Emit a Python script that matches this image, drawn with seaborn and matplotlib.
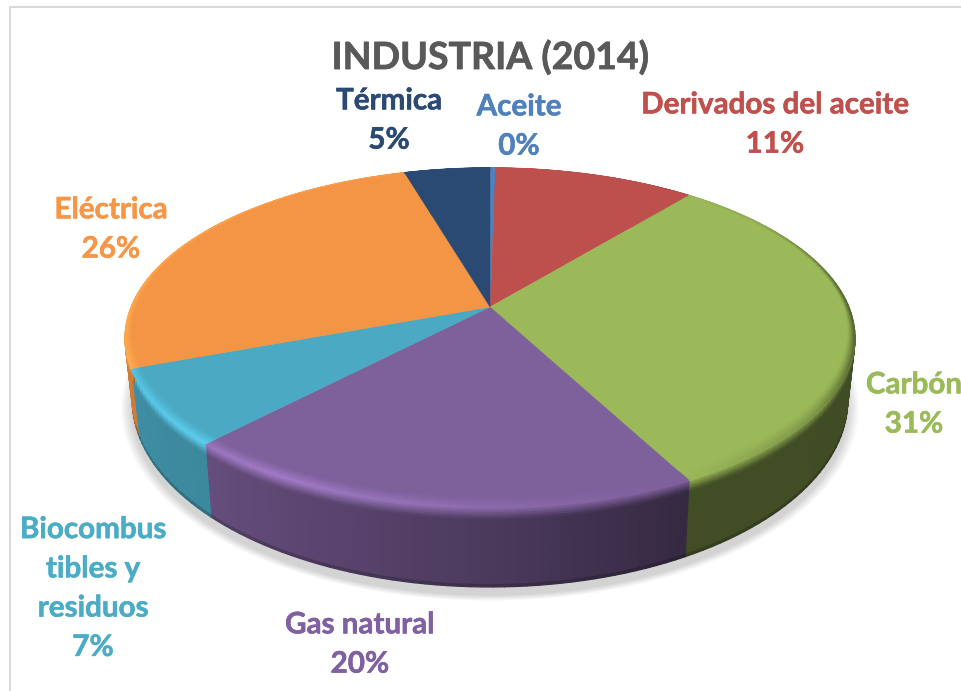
import numpy as np
import matplotlib
matplotlib.use("Agg")
import matplotlib.pyplot as plt
import matplotlib.patheffects as pe
from matplotlib.collections import PolyCollection
import seaborn as sns

# --- datos ---
TITLE = "INDUSTRIA (2014)"
categories = ["Aceite", "Derivados del aceite", "Carbón", "Gas natural",
              "Biocombus\ntibles y\nresiduos", "Eléctrica", "Térmica"]
values = [0.3, 10.6, 31.4, 19.8, 7.2, 26.19, 4.51]
face_hex = ["#4f81bd", "#bd504d", "#9bb959", "#7e609b", "#4ba9c3", "#f39545", "#2a4a73"]
label_hex = ["#4f81bd", "#c0504d", "#9bbb59", "#7f60a0", "#4bacc6", "#f79646", "#2a4a73"]

# --- layout, in figure pixels ---
label_x = [519, 775, 914, 360, 93, 111, 389]
label_y = [126, 124, 404, 644, 588, 229, 120]
CX, CY = 490, 307        # apex of the pie
A, B, K = 358.9, 164.4, 0.182   # perspective of the top face
RIM_MID, WALL_MID, WALL_SX, WALL_SY = 338, 400, 0.98, 1.10

sns.set_theme(style="white")
plt.rcParams["font.family"] = ["Lato", "DejaVu Sans"]
palette = np.array(sns.color_palette(face_hex))


def project(r, theta):
    """pie coords (radius, clockwise angle from the top) -> screen"""
    px, py = r * np.sin(theta), r * np.cos(theta)
    d = 1 + K * py
    return CX + A * px / d, CY - B * py / d


def drop(x, y):
    """top rim point -> same point on the bottom rim"""
    return CX + (x - CX) * WALL_SX, WALL_MID + (y - RIM_MID) * WALL_SY


def wall_shade(theta):
    return np.interp(np.sin(theta), [-1, -0.68, 0, 0.47, 1], [0.85, 0.80, 0.60, 0.42, 0.41])


def rim_light(theta):
    light = np.interp(np.sin(theta), [-1, -0.5, 0, 0.45, 0.8, 1], [1.15, 1.30, 1.12, 1.0, 0.8, 0.5])
    # the back of the rim has almost no bevel
    return 1 + (light - 1) * np.interp(np.cos(theta), [0, 0.8], [1, 0.15])


def bevel_width(theta):
    return np.interp(np.cos(theta), [-1, 0, 1], [0.05, 0.014, 0.004])


fig, ax = plt.subplots(figsize=(9.61, 6.91), dpi=100)
fig.subplots_adjust(0, 0, 1, 1)
ax.set_xlim(0, 961)
ax.set_ylim(691, 0)
ax.axis("off")

# marco gris
ax.plot([10, 10, 961], [691, 7, 7], color="#d9d9d9", lw=1.5, zorder=1)

edges = 2 * np.pi * np.cumsum([0] + values) / sum(values)

# sombra
circle = np.linspace(0, 2 * np.pi, 240)
rx, ry = project(1, circle)
bx, by = drop(rx, ry)
n_shadow = 22
for i in range(n_shadow):
    s = 1 + 0.032 * (1 - i / n_shadow)
    ax.fill(CX + (bx - CX) * s, WALL_MID + (by - WALL_MID) * s + 8, color="k",
            alpha=0.0075, lw=0, zorder=2)

# pared lateral: una tira por sector, de la que esta atras a la de delante
wall_v = [0, 0.03, 0.06, 0.09, 0.12, 0.15, 0.97, 1.0]
for j in range(len(values)):
    n = max(2, int((edges[j + 1] - edges[j]) / np.radians(1.5)))
    tt = np.linspace(edges[j], edges[j + 1], n + 1)
    wall_polys, wall_cols = [], []
    for m in np.argsort(-np.cos(tt[:-1])):
        t0, t1 = tt[m], tt[m + 1]
        tm = (t0 + t1) / 2
        x0, y0 = project(1, t0)
        x1, y1 = project(1, t1)
        xb0, yb0 = drop(x0, y0)
        xb1, yb1 = drop(x1, y1)
        wall_c = palette[j] * wall_shade(tm)
        rim_c = np.clip(palette[j] * rim_light(tm), 0, 1)
        for a, c in zip(wall_v[:-1], wall_v[1:]):
            wall_polys.append([(x0 + (xb0 - x0) * a, y0 + (yb0 - y0) * a),
                               (x1 + (xb1 - x1) * a, y1 + (yb1 - y1) * a),
                               (x1 + (xb1 - x1) * c, y1 + (yb1 - y1) * c),
                               (x0 + (xb0 - x0) * c, y0 + (yb0 - y0) * c)])
            if a < 0.15:
                f = (a + 0.015) / 0.15
                wall_cols.append(rim_c + (wall_c - rim_c) * f)
            elif a < 0.97:
                wall_cols.append(wall_c)
            else:
                wall_cols.append(wall_c * 0.8)
    ax.add_collection(PolyCollection(wall_polys, facecolors=wall_cols, edgecolors="face",
                                     linewidths=0.9, zorder=3 + 0.01 * j))

# cara superior
for j in range(len(values)):
    tt = np.linspace(edges[j], edges[j + 1], max(3, int(values[j] * 6)))
    x, y = project(1, tt)
    ax.fill(np.r_[CX, x], np.r_[CY, y], color=palette[j], lw=0.3, zorder=4)

# bisel del borde
steps = np.linspace(0, 1, 7)
bevel_polys, bevel_cols = [], []
for j in range(len(values)):
    n = max(2, int((edges[j + 1] - edges[j]) / np.radians(1.5)))
    tt = np.linspace(edges[j], edges[j + 1], n + 1)
    for t0, t1 in zip(tt[:-1], tt[1:]):
        tm = (t0 + t1) / 2
        w = bevel_width(tm)
        rim_c = np.clip(palette[j] * rim_light(tm), 0, 1)
        for a, c in zip(steps[:-1], steps[1:]):
            ra, rc = 1 - w * (1 - a), 1 - w * (1 - c)
            p = [project(ra, t0), project(ra, t1), project(rc, t1), project(rc, t0)]
            bevel_polys.append(p)
            bevel_cols.append(palette[j] + (rim_c - palette[j]) * ((a + c) / 2) ** 1.3)
ax.add_collection(PolyCollection(bevel_polys, facecolors=bevel_cols, edgecolors="face",
                                 linewidths=0.6, zorder=5))

# textos
thick = [pe.withStroke(linewidth=0.5, foreground="#595959")]
ax.text(490, 57, TITLE, color="#595959", fontsize=27, fontweight="bold",
        ha="center", va="center", zorder=6, path_effects=thick)
for name, v, lx, ly, col in zip(categories, values, label_x, label_y, label_hex):
    ax.text(lx, ly, f"{name}\n{v:.0f}%", color=col, fontsize=21.3, fontweight="bold",
            ha="center", va="center", multialignment="center", linespacing=1.49,
            clip_on=True, zorder=6, path_effects=[pe.withStroke(linewidth=0.4, foreground=col)])

fig.savefig("out.png", dpi=100)
